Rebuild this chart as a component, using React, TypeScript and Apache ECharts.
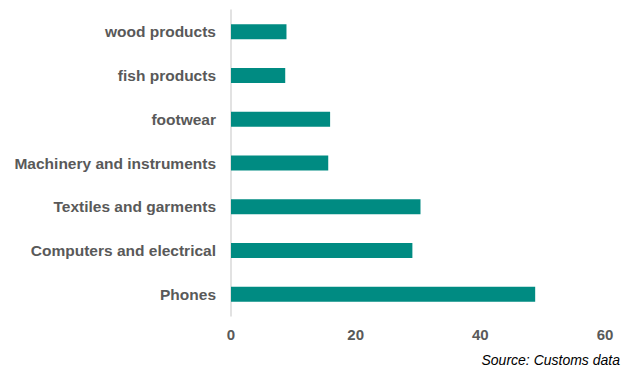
import React, { useEffect, useRef } from "react";
import * as echarts from "echarts";

const categories = [
  "Phones",
  "Computers and electrical",
  "Textiles and garments",
  "Machinery and instruments",
  "footwear",
  "fish products",
  "wood products",
];
const values = [48.8, 29.1, 30.4, 15.6, 15.9, 8.7, 8.9];
const xTicks = { min: 0, max: 60, interval: 20 };
const sourceText = "Source: Customs data";

export default function App() {
  const ref = useRef<HTMLDivElement>(null);
  useEffect(() => {
    if (!ref.current) return;
    const chart = echarts.init(ref.current, null, { renderer: "svg" });
    chart.setOption({
      animation: false,
      backgroundColor: "#ffffff",
      grid: { left: 231, right: 33, top: 10, bottom: 51, containLabel: false },
      xAxis: {
        type: "value",
        min: xTicks.min,
        max: xTicks.max,
        interval: xTicks.interval,
        splitLine: { show: false },
        axisLine: { show: false },
        axisTick: { show: false },
        axisLabel: {
          color: "#595959",
          fontFamily: "Liberation Sans, Arial, sans-serif",
          fontWeight: "bold",
          fontSize: 15,
          margin: 11,
        },
      },
      yAxis: {
        type: "category",
        data: categories,
        axisLine: { show: true, lineStyle: { color: "#d9d9d9", width: 1.5 } },
        axisTick: { show: false },
        axisLabel: {
          color: "#595959",
          fontFamily: "Liberation Sans, Arial, sans-serif",
          fontWeight: "bold",
          fontSize: 15.5,
          margin: 15,
        },
      },
      series: [
        {
          type: "bar",
          data: values,
          barWidth: 15,
          itemStyle: { color: "#008B82" },
        },
      ],
      graphic: [
        {
          type: "text",
          right: 18,
          top: 353,
          style: {
            text: sourceText,
            fill: "#000000",
            font: "italic 14px 'Liberation Sans', Arial, sans-serif",
          },
        },
      ],
    });
    return () => chart.dispose();
  }, []);
  return <div ref={ref} style={{ width: 638, height: 367, position: "absolute", left: 0, top: 0 }} />;
}
